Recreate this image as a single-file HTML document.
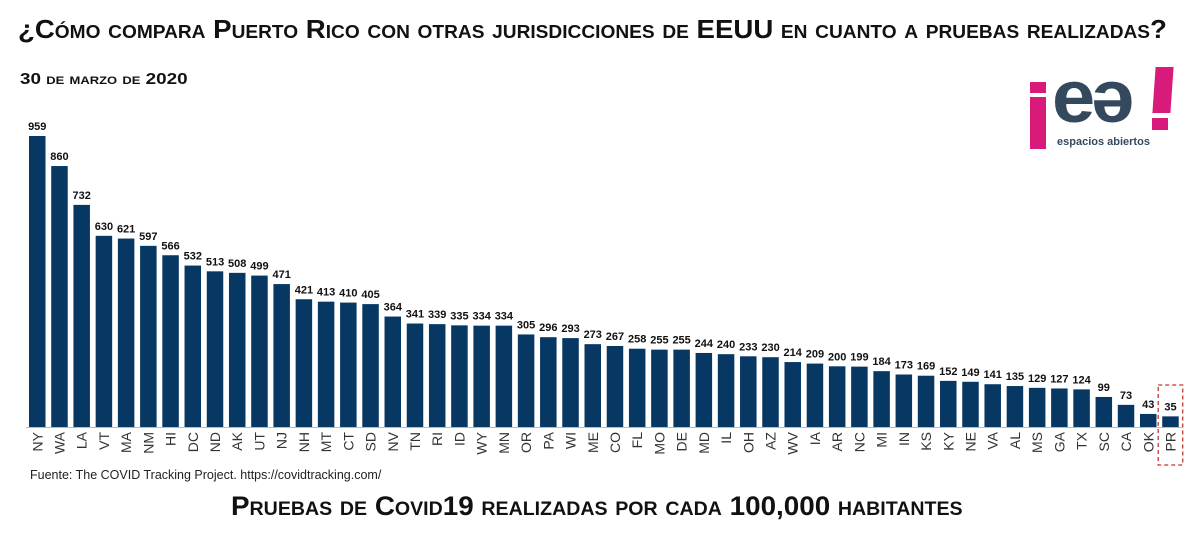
<!DOCTYPE html>
<html><head><meta charset="utf-8"><style>
body{margin:0;background:#fff;width:1200px;height:541px;overflow:hidden;font-family:"Liberation Sans",sans-serif;position:relative}
.t{position:absolute;font-weight:bold;color:#111;white-space:nowrap;font-variant:small-caps;transform-origin:0 0}
</style></head><body>
<div class="t" style="left:18px;top:14px;font-size:26px;transform:scaleX(1.062)">¿Cómo compara Puerto Rico con otras jurisdicciones de EEUU en cuanto a pruebas realizadas?</div>
<div class="t" style="left:20px;top:71px;font-size:16px;transform:scaleX(1.18)">30 de marzo de 2020</div>
<div style="position:absolute;left:1025px;top:62px;width:160px;height:90px">
 <div style="position:absolute;left:5px;top:35px;width:16px;height:52px;background:#d81b7a"></div>
 <div style="position:absolute;left:5px;top:20px;width:16px;height:11px;background:#d81b7a"></div>
 <div style="position:absolute;left:27px;top:-8px;font:bold 74px 'Liberation Sans',sans-serif;color:#34495e;letter-spacing:-4px;transform:scaleX(1.05);transform-origin:0 0">eə</div>
 <div style="position:absolute;left:129px;top:5px;width:18px;height:46px;background:#d81b7a;transform:skewX(-4deg)"></div>
 <div style="position:absolute;left:127px;top:56px;width:16px;height:12px;background:#d81b7a"></div>
 <div style="position:absolute;left:32px;top:74px;font:bold 11px 'Liberation Sans',sans-serif;color:#34495e">espacios abiertos</div>
</div>
<svg id="chart" width="1200" height="541" style="position:absolute;left:0;top:0"></svg>
<div style="position:absolute;left:30px;top:468px;font-size:12.5px;color:#222">Fuente: The COVID Tracking Project. https://covidtracking.com/</div>
<div class="t" style="left:231px;top:491px;font-size:27px;transform:scaleX(1.03)">Pruebas de Covid19 realizadas por cada 100,000 habitantes</div>
<script>
const states=["NY","WA","LA","VT","MA","NM","HI","DC","ND","AK","UT","NJ","NH","MT","CT","SD","NV","TN","RI","ID","WY","MN","OR","PA","WI","ME","CO","FL","MO","DE","MD","IL","OH","AZ","WV","IA","AR","NC","MI","IN","KS","KY","NE","VA","AL","MS","GA","TX","SC","CA","OK","PR"];
const tests=[959,860,732,630,621,597,566,532,513,508,499,471,421,413,410,405,364,341,339,335,334,334,305,296,293,273,267,258,255,255,244,240,233,230,214,209,200,199,184,173,169,152,149,141,135,129,127,124,99,73,43,35];
const highlight="PR";
const NS="http://www.w3.org/2000/svg";
const svg=document.getElementById('chart');
const x0=29,pitch=22.22,bw=16.5,base=427,scale=291/959;
const xs=i=>x0+i*pitch;
const ys=v=>base-v*scale;
function mk(t,a){const e=document.createElementNS(NS,t);for(const k in a)e.setAttribute(k,a[k]);svg.appendChild(e);return e;}
const ax=mk('line',{x1:26,x2:1182,y1:base+0.5,y2:base+0.5,stroke:'#bbb','stroke-width':1});


states.forEach((s,i)=>{
 const r=mk('rect',{x:xs(i),y:ys(tests[i]),width:bw,height:base-ys(tests[i]),fill:'#073763'});
 
 
 const v=mk('text',{x:xs(i)+bw/2,y:ys(tests[i])-6,'text-anchor':'middle','font-size':11,'font-weight':'bold',fill:'#111','font-family':'Liberation Sans, sans-serif'});
 v.textContent=tests[i];
 
 
 const cx=xs(i)+bw/2+5,cy=432;
 const l=mk('text',{x:cx,y:cy,transform:`rotate(-90 ${cx} ${cy})`,'text-anchor':'end','font-size':14,fill:'#333','font-family':'Liberation Sans, sans-serif'});
 l.textContent=s;
 
 
 if(s===highlight){
  const b=mk('rect',{x:xs(i)-4,y:385,width:bw+8,height:80,fill:'none',stroke:'#c0392b','stroke-width':1.3,'stroke-dasharray':'4,3'});
  
  
 }
});
</script>
</body></html>
